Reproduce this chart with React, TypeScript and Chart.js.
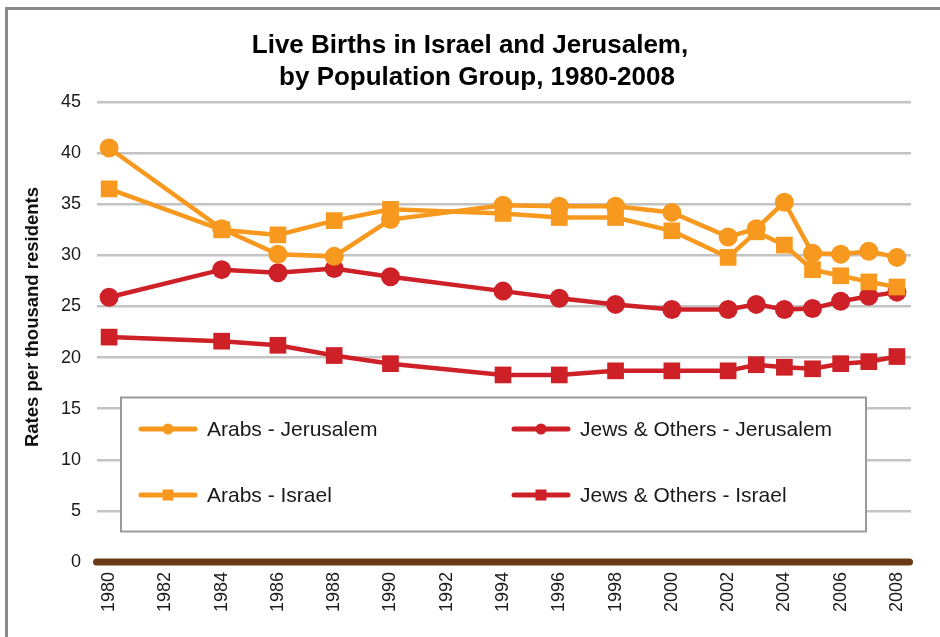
import React, { useEffect, useRef } from "react";
import { Chart, registerables } from "chart.js";

Chart.register(...registerables);

const TITLE_LINES = ["Live Births in Israel and Jerusalem,", "by Population Group, 1980-2008"];
const Y_TITLE = "Rates per thousand residents";

const YEARS = [1980, 1984, 1986, 1988, 1990, 1994, 1996, 1998, 2000, 2002, 2003, 2004, 2005, 2006, 2007, 2008];
const TICK_YEARS = [1980, 1982, 1984, 1986, 1988, 1990, 1992, 1994, 1996, 1998, 2000, 2002, 2004, 2006, 2008];
const Y_TICKS = [0, 5, 10, 15, 20, 25, 30, 35, 40, 45];

const ARABS_JERUSALEM = [40.5, 32.6, 30.1, 29.9, 33.5, 34.9, 34.8, 34.8, 34.2, 31.8, 32.6, 35.2, 30.2, 30.1, 30.4, 29.8];
const ARABS_ISRAEL = [36.5, 32.5, 32.0, 33.4, 34.5, 34.1, 33.7, 33.7, 32.4, 29.8, 32.3, 31.0, 28.6, 28.0, 27.4, 26.9];
const JEWS_JERUSALEM = [25.9, 28.6, 28.3, 28.7, 27.9, 26.5, 25.8, 25.2, 24.7, 24.7, 25.2, 24.7, 24.8, 25.5, 26.0, 26.4];
const JEWS_ISRAEL = [22.0, 21.6, 21.2, 20.2, 19.4, 18.3, 18.3, 18.7, 18.7, 18.7, 19.3, 19.05, 18.9, 19.4, 19.6, 20.1];

const SERIES_NAMES = [
  "Arabs - Jerusalem",
  "Arabs - Israel",
  "Jews & Others - Jerusalem",
  "Jews & Others - Israel",
];

const ORANGE = "#F7991E";
const RED = "#CD2027";
const BROWN = "#6A3A17";
const FONT = "'Liberation Sans', Arial, Helvetica, sans-serif";

const toPoints = (vals: number[]) => YEARS.map((x, i) => ({ x, y: vals[i] }));

const decorPlugin = {
  id: "decor",
  beforeDraw(chart: any) {
    const ctx = chart.ctx;
    ctx.save();
    ctx.fillStyle = "#ffffff";
    ctx.fillRect(0, 0, chart.width, chart.height);
    ctx.strokeStyle = "#8a8a8a";
    ctx.lineWidth = 3;
    ctx.beginPath();
    ctx.moveTo(6.5, chart.height);
    ctx.lineTo(6.5, 8.5);
    ctx.lineTo(chart.width, 8.5);
    ctx.stroke();

    // title
    ctx.font = `bold 26px ${FONT}`;
    ctx.fillStyle = "#000000";
    ctx.textAlign = "center";
    ctx.textBaseline = "middle";
    ctx.fillText(TITLE_LINES[0], 470, 46);
    ctx.fillText(TITLE_LINES[1], 477, 78);
    ctx.restore();
  },
  beforeDatasetsDraw(chart: any) {
    const ctx = chart.ctx;
    const area = chart.chartArea;
    const yScale = chart.scales.y;
    ctx.save();
    // x-axis baseline
    const y0 = yScale.getPixelForValue(0);
    ctx.strokeStyle = BROWN;
    ctx.lineWidth = 7;
    ctx.lineCap = "round";
    ctx.beginPath();
    ctx.moveTo(area.left - 0.5, y0);
    ctx.lineTo(area.right - 1.5, y0);
    ctx.stroke();

    // legend box
    const bx = 121, by = 397.5, bw = 745, bh = 134;
    ctx.fillStyle = "#ffffff";
    ctx.fillRect(bx, by, bw, bh);
    ctx.strokeStyle = "#9a9a9a";
    ctx.lineWidth = 2;
    ctx.strokeRect(bx, by, bw, bh);

    const items = chart.data.datasets.map((ds: any) => ({
      label: ds.label,
      color: ds.borderColor,
      style: ds.pointStyle,
    }));
    const pos: Record<string, [number, number]> = {
      [SERIES_NAMES[0]]: [139, 429],
      [SERIES_NAMES[1]]: [139, 495],
      [SERIES_NAMES[2]]: [512, 429],
      [SERIES_NAMES[3]]: [512, 495],
    };
    ctx.font = `21px ${FONT}`;
    ctx.textBaseline = "middle";
    ctx.textAlign = "left";
    items.forEach((it: any) => {
      const [lx, ly] = pos[it.label];
      ctx.strokeStyle = it.color;
      ctx.lineWidth = 5;
      ctx.lineCap = "round";
      ctx.beginPath();
      ctx.moveTo(lx + 2, ly);
      ctx.lineTo(lx + 56, ly);
      ctx.stroke();
      ctx.fillStyle = it.color;
      if (it.style === "circle") {
        ctx.beginPath();
        ctx.arc(lx + 29, ly, 5.5, 0, Math.PI * 2);
        ctx.fill();
      } else {
        ctx.fillRect(lx + 23.5, ly - 5.5, 11, 11);
      }
      ctx.fillStyle = "#1a1a1a";
      ctx.fillText(it.label, lx + 68, ly + 1);
    });
    ctx.restore();
  },
  afterDraw(chart: any) {
    const ctx = chart.ctx;
    ctx.save();
    ctx.translate(33, 317);
    ctx.rotate(-Math.PI / 2);
    ctx.font = `bold 18.5px ${FONT}`;
    ctx.fillStyle = "#111111";
    ctx.textAlign = "center";
    ctx.textBaseline = "middle";
    ctx.fillText(Y_TITLE, 0, 0);
    ctx.restore();
  },
};

export default function App() {
  const canvasRef = useRef<HTMLCanvasElement | null>(null);

  useEffect(() => {
    const canvas = canvasRef.current;
    if (!canvas) return;
    Chart.defaults.font.family = FONT;

    const mk = (label: string, vals: number[], color: string, style: string, radius: number) => ({
      label,
      data: toPoints(vals),
      borderColor: color,
      backgroundColor: color,
      pointBackgroundColor: color,
      pointBorderColor: color,
      pointBorderWidth: 0,
      pointStyle: style,
      pointRadius: radius,
      pointHoverRadius: radius,
      borderWidth: 4.5,
      tension: 0,
      fill: false,
    });

    const chart = new Chart(canvas, {
      type: "line",
      data: {
        datasets: [
          mk(SERIES_NAMES[0], ARABS_JERUSALEM, ORANGE, "circle", 9.5),
          mk(SERIES_NAMES[1], ARABS_ISRAEL, ORANGE, "rect", 11.8),
          mk(SERIES_NAMES[2], JEWS_JERUSALEM, RED, "circle", 9.5),
          mk(SERIES_NAMES[3], JEWS_ISRAEL, RED, "rect", 11.8),
        ],
      },
      options: {
        responsive: false,
        animation: false,
        events: [],
        layout: { padding: { left: 0, right: 29, top: 102, bottom: 0 } },
        plugins: {
          legend: { display: false },
          tooltip: { enabled: false },
          title: { display: false },
        },
        scales: {
          x: {
            type: "linear",
            min: 1979.57,
            max: 2008.5,
            grid: { display: false, drawTicks: false },
            border: { display: false },
            afterBuildTicks: (scale: any) => {
              scale.ticks = TICK_YEARS.map((v) => ({ value: v }));
            },
            afterFit: (scale: any) => {
              scale.height = 75;
            },
            ticks: {
              autoSkip: false,
              minRotation: 90,
              maxRotation: 90,
              padding: 10,
              color: "#1a1a1a",
              font: { family: FONT, size: 18 },
              callback: (v: any) => String(v),
            },
          },
          y: {
            min: 0,
            max: 45,
            grid: { color: "#c3c3c3", lineWidth: 2.5, drawTicks: false },
            border: { display: false },
            afterBuildTicks: (scale: any) => {
              scale.ticks = Y_TICKS.map((v) => ({ value: v }));
            },
            afterFit: (scale: any) => {
              scale.width = 97;
            },
            ticks: {
              padding: 16,
              color: "#1a1a1a",
              font: { family: FONT, size: 18 },
              callback: (v: any) => String(v),
            },
          },
        },
      },
      plugins: [decorPlugin],
    } as any);

    return () => {
      chart.destroy();
    };
  }, []);

  return (
    <div style={{ position: "absolute", left: 0, top: 0, width: 940, height: 637, background: "#fff" }}>
      <canvas ref={canvasRef} width={940} height={637} style={{ display: "block", width: 940, height: 637 }} />
    </div>
  );
}
